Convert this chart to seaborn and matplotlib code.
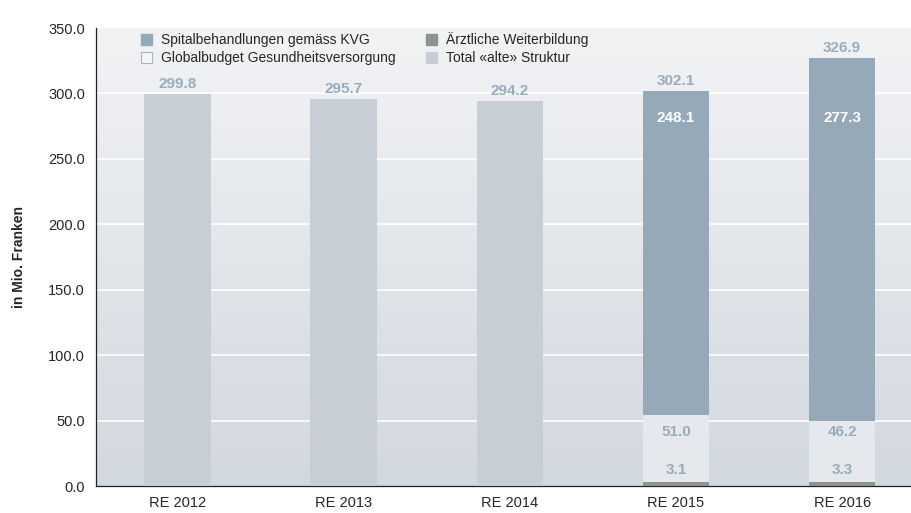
import numpy as np
import pandas as pd
import seaborn as sns
import matplotlib.pyplot as plt
from matplotlib.patches import Patch
from matplotlib.colors import LinearSegmentedColormap

# data
categories = ["RE 2012", "RE 2013", "RE 2014", "RE 2015", "RE 2016"]
total_alt = [299.8, 295.7, 294.2, np.nan, np.nan]
spital = [np.nan, np.nan, np.nan, 248.1, 277.3]
globalbudget = [np.nan, np.nan, np.nan, 51.0, 46.2]
weiterbildung = [np.nan, np.nan, np.nan, 3.1, 3.3]
totals = [299.8, 295.7, 294.2, 302.1, 326.9]
yticks = [0, 50, 100, 150, 200, 250, 300, 350]

c_spital = "#95a9b8"
c_global = "#e5e9ed"
c_weiter = "#8d9292"
c_alt = "#c8ced6"
c_label = "#9aacbb"

sns.set_style("white")
plt.rcParams["font.family"] = ["Liberation Sans", "DejaVu Sans"]

df = pd.DataFrame({
    "cat": categories,
    "alt": total_alt,
    "w": weiterbildung,
    "g": globalbudget,
    "s": spital,
})
# cumulative heights for the stacked bars (largest drawn first)
df["cum_g"] = df["w"] + df["g"]
df["cum_s"] = df["cum_g"] + df["s"]

fig = plt.figure(figsize=(9.12, 5.13), dpi=100)
ax = fig.add_axes([96 / 912, 1 - 486 / 513, 1 - 96 / 912, (486 - 28) / 513])

# background gradient
cmap = LinearSegmentedColormap.from_list("bg", ["#f2f3f5", "#d2d8df"])
ax.imshow(np.linspace(0, 1, 256).reshape(-1, 1), cmap=cmap, aspect="auto",
          extent=[0, 1, 0, 1], transform=ax.transAxes, zorder=0)

bw = 0.4
for col, c in [("alt", c_alt), ("cum_s", c_spital), ("cum_g", c_global), ("w", c_weiter)]:
    sns.barplot(data=df, x="cat", y=col, order=categories, color=c, width=bw,
                saturation=1, linewidth=0, ax=ax, zorder=3)

ax.set_ylim(0, 350)
ax.set_xlim(-0.49, 4.42)
ax.set_yticks(yticks)
ax.set_yticklabels([f"{v:.1f}" for v in yticks], fontsize=10.5)
for v in yticks[1:-1]:
    ax.axhline(v, color="white", lw=1.2, zorder=1)

ax.set_xticks(range(len(categories)))
ax.set_xticklabels(categories, fontsize=10.5)
ax.set_xticks([i + 0.5 for i in range(len(categories) - 1)], minor=True)
ax.tick_params(axis="x", which="major", length=0, pad=7)
ax.tick_params(axis="x", which="minor", length=4, width=0.8, color="#333333")
ax.tick_params(axis="y", length=5, width=0.8, color="#333333", pad=3)
ax.set_xlabel("")
ax.set_ylabel("in Mio. Franken", fontsize=10, fontweight="bold", labelpad=16)

for side in ["top", "right"]:
    ax.spines[side].set_visible(False)
for side in ["left", "bottom"]:
    ax.spines[side].set_color("#222222")
    ax.spines[side].set_linewidth(0.9)

# value labels
for i, t in enumerate(totals):
    ax.annotate(f"{t:.1f}", (i, t), xytext=(0, 2), textcoords="offset points",
                ha="center", va="bottom", fontsize=11, fontweight="bold",
                color=c_label, zorder=5)
for i in range(len(categories)):
    if not np.isnan(spital[i]):
        ax.text(i, 281, f"{spital[i]:.1f}", ha="center", va="center",
                fontsize=11, fontweight="bold", color="white", zorder=5)
        ax.text(i, 41, f"{globalbudget[i]:.1f}", ha="center", va="center",
                fontsize=11, fontweight="bold", color=c_label, zorder=5)
        ax.text(i, 12, f"{weiterbildung[i]:.1f}", ha="center", va="center",
                fontsize=11, fontweight="bold", color=c_label, zorder=5)

handles = [
    Patch(facecolor=c_spital, edgecolor=c_spital, label="Spitalbehandlungen gemäss KVG"),
    Patch(facecolor="#f4f5f7", edgecolor="#a9b3bd", linewidth=0.8,
          label="Globalbudget Gesundheitsversorgung"),
    Patch(facecolor=c_weiter, edgecolor=c_weiter, label="Ärztliche Weiterbildung"),
    Patch(facecolor=c_alt, edgecolor=c_alt, label="Total «alte» Struktur"),
]
leg = ax.legend(handles=handles, ncol=2, loc="upper left", bbox_to_anchor=(0.043, 1.012),
                frameon=False, fontsize=10, handlelength=0.8, handleheight=0.8,
                handletextpad=0.65, columnspacing=2.2, labelspacing=0.3,
                borderaxespad=0.3)

fig.savefig("out.png", dpi=100)
